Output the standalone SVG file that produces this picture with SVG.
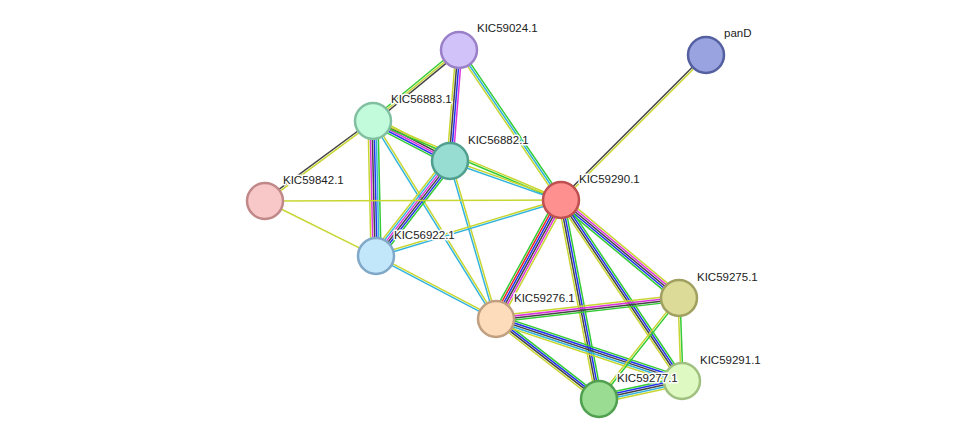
<svg xmlns="http://www.w3.org/2000/svg" width="975" height="445" viewBox="0 0 975 445">
<style>
line{stroke-width:1.5}
.g{stroke:#33cc33}.y{stroke:#c8d632}.k{stroke:#444}.b{stroke:#2233ee}.m{stroke:#dd33dd}.c{stroke:#33b4dd}.r{stroke:#ee2222}
.n{stroke-width:2.5}
text{font-family:"Liberation Sans",Arial,sans-serif;font-size:11.5px;fill:#222;stroke:#fff;stroke-width:3px;paint-order:stroke;stroke-linejoin:round}
</style>
<rect width="975" height="445" fill="#fff"/>
<g id="edges">
<g transform="translate(561,200) rotate(-45)"><line x2="205" y1="-1" y2="-1" class="k"/><line x2="205" y1="1" y2="1" class="y"/></g>
<g transform="translate(373,121) rotate(-39.5)"><line x2="111.5" y1="-2" y2="-2" class="g"/><line x2="111.5" class="y"/><line x2="111.5" y1="2" y2="2" class="k"/></g>
<g transform="translate(450,161) rotate(-85.4)"><line x2="111.4" y1="-3" y2="-3" class="y"/><line x2="111.4" y1="-1" y2="-1" class="k"/><line x2="111.4" y1="1" y2="1" class="b"/><line x2="111.4" y1="3" y2="3" class="m"/></g>
<g transform="translate(459,50) rotate(55.8)"><line x2="181.4" y1="-2" y2="-2" class="g"/><line x2="181.4" class="c"/><line x2="181.4" y1="2" y2="2" class="y"/></g>
<g transform="translate(265,201) rotate(-36.5)"><line x2="134.4" y1="-1" y2="-1" class="k"/><line x2="134.4" y1="1" y2="1" class="y"/></g>
<g transform="translate(373,121) rotate(27.5)"><line x2="86.8" y1="-4" y2="-4" class="y"/><line x2="86.8" y1="-2" y2="-2" class="k"/><line x2="86.8" class="m"/><line x2="86.8" y1="2" y2="2" class="b"/><line x2="86.8" y1="4" y2="4" class="g"/></g>
<g transform="translate(373,121) rotate(88.7)"><line x2="135" y1="-5" y2="-5" class="g"/><line x2="135" y1="-3" y2="-3" class="c"/><line x2="135" y1="-1" y2="-1" class="b"/><line x2="135" y1="1" y2="1" class="k"/><line x2="135" y1="3" y2="3" class="m"/><line x2="135" y1="5" y2="5" class="y"/></g>
<g transform="translate(373,121) rotate(22.8)"><line x2="203.9" y1="-1" y2="-1" class="y"/><line x2="203.9" y1="1" y2="1" class="g"/></g>
<g transform="translate(373,121) rotate(58.2)"><line x2="233.1" y1="-1" y2="-1" class="y"/><line x2="233.1" y1="1" y2="1" class="c"/></g>
<g transform="translate(450,161) rotate(19.4)"><line x2="117.7" y1="-1" y2="-1" class="y"/><line x2="117.7" y1="1" y2="1" class="c"/></g>
<g transform="translate(376,256) rotate(-52.1)"><line x2="120.4" y1="-5" y2="-5" class="y"/><line x2="120.4" y1="-3" y2="-3" class="c"/><line x2="120.4" y1="-1" y2="-1" class="m"/><line x2="120.4" y1="1" y2="1" class="k"/><line x2="120.4" y1="3" y2="3" class="b"/><line x2="120.4" y1="5" y2="5" class="g"/></g>
<g transform="translate(450,161) rotate(73.8)"><line x2="164.6" y1="-1" y2="-1" class="y"/><line x2="164.6" y1="1" y2="1" class="c"/></g>
<g transform="translate(265,201) rotate(-0.2)"><line x2="296" class="y"/></g>
<g transform="translate(265,201) rotate(26.4)"><line x2="123.9" class="y"/></g>
<g transform="translate(376,256) rotate(-16.8)"><line x2="193.3" y1="-1" y2="-1" class="y"/><line x2="193.3" y1="1" y2="1" class="c"/></g>
<g transform="translate(376,256) rotate(27.7)"><line x2="135.5" y1="-1" y2="-1" class="y"/><line x2="135.5" y1="1" y2="1" class="c"/></g>
<g transform="translate(496,319) rotate(-61.4)"><line x2="135.6" y1="-5" y2="-5" class="g"/><line x2="135.6" y1="-3" y2="-3" class="r"/><line x2="135.6" y1="-1" y2="-1" class="b"/><line x2="135.6" y1="1" y2="1" class="k"/><line x2="135.6" y1="3" y2="3" class="m"/><line x2="135.6" y1="5" y2="5" class="y"/></g>
<g transform="translate(561,200) rotate(39.7)"><line x2="153.4" y1="-4" y2="-4" class="y"/><line x2="153.4" y1="-2" y2="-2" class="m"/><line x2="153.4" class="k"/><line x2="153.4" y1="2" y2="2" class="b"/><line x2="153.4" y1="4" y2="4" class="g"/></g>
<g transform="translate(561,200) rotate(79.2)"><line x2="202.6" y1="-3" y2="-3" class="g"/><line x2="202.6" y1="-1" y2="-1" class="b"/><line x2="202.6" y1="1" y2="1" class="k"/><line x2="202.6" y1="3" y2="3" class="y"/></g>
<g transform="translate(561,200) rotate(56.2)"><line x2="217.7" y1="-3" y2="-3" class="g"/><line x2="217.7" y1="-1" y2="-1" class="b"/><line x2="217.7" y1="1" y2="1" class="k"/><line x2="217.7" y1="3" y2="3" class="y"/></g>
<g transform="translate(496,319) rotate(-6.5)"><line x2="184.2" y1="-3" y2="-3" class="y"/><line x2="184.2" y1="-1" y2="-1" class="m"/><line x2="184.2" y1="1" y2="1" class="k"/><line x2="184.2" y1="3" y2="3" class="g"/></g>
<g transform="translate(496,319) rotate(37.8)"><line x2="130.4" y1="-3" y2="-3" class="g"/><line x2="130.4" y1="-1" y2="-1" class="b"/><line x2="130.4" y1="1" y2="1" class="k"/><line x2="130.4" y1="3" y2="3" class="y"/></g>
<g transform="translate(496,319) rotate(18.4)"><line x2="196.1" y1="-4" y2="-4" class="g"/><line x2="196.1" y1="-2" y2="-2" class="b"/><line x2="196.1" class="k"/><line x2="196.1" y1="2" y2="2" class="c"/><line x2="196.1" y1="4" y2="4" class="y"/></g>
<g transform="translate(679,298) rotate(128.4)"><line x2="128.8" y1="-1" y2="-1" class="g"/><line x2="128.8" y1="1" y2="1" class="y"/></g>
<g transform="translate(679,298) rotate(87.9)"><line x2="83.1" y1="-1" y2="-1" class="g"/><line x2="83.1" y1="1" y2="1" class="y"/></g>
<g transform="translate(599,399) rotate(-12.2)"><line x2="84.9" y1="-4" y2="-4" class="g"/><line x2="84.9" y1="-2" y2="-2" class="b"/><line x2="84.9" class="k"/><line x2="84.9" y1="2" y2="2" class="c"/><line x2="84.9" y1="4" y2="4" class="y"/></g>
</g>
<g id="n59024"><circle class="n" cx="459" cy="50" r="18" fill="#d2c2fa" stroke="#9a80c8"/><text x="477" y="32">KIC59024.1</text></g>
<g id="npanD"><circle class="n" cx="706" cy="55" r="18" fill="#99a3e0" stroke="#5560a0"/><text x="724" y="37">panD</text></g>
<g id="n56883"><circle class="n" cx="373" cy="121" r="18" fill="#c2fadc" stroke="#80c0a0"/><text x="391" y="103">KIC56883.1</text></g>
<g id="n56882"><circle class="n" cx="450" cy="161" r="18" fill="#98ddd2" stroke="#50a090"/><text x="468" y="144">KIC56882.1</text></g>
<g id="n59842"><circle class="n" cx="265" cy="201" r="18" fill="#f8c8c8" stroke="#c08888"/><text x="283" y="184">KIC59842.1</text></g>
<g id="n59290"><circle class="n" cx="561" cy="200" r="18" fill="#ff9090" stroke="#c05050"/><text x="579" y="183">KIC59290.1</text></g>
<g id="n56922"><circle class="n" cx="376" cy="256" r="18" fill="#c2e6fa" stroke="#80a8c8"/><text x="394" y="239">KIC56922.1</text></g>
<g id="n59276"><circle class="n" cx="496" cy="319" r="18" fill="#fddcbc" stroke="#c0a080"/><text x="514" y="302">KIC59276.1</text></g>
<g id="n59275"><circle class="n" cx="679" cy="298" r="18" fill="#dcdc98" stroke="#a0a060"/><text x="697" y="281">KIC59275.1</text></g>
<g id="n59291"><circle class="n" cx="682" cy="381" r="18" fill="#defac2" stroke="#a0c080"/><text x="700" y="364">KIC59291.1</text></g>
<g id="n59277"><circle class="n" cx="599" cy="399" r="18" fill="#9adc92" stroke="#50a050"/><text x="617" y="382">KIC59277.1</text></g>
</svg>
